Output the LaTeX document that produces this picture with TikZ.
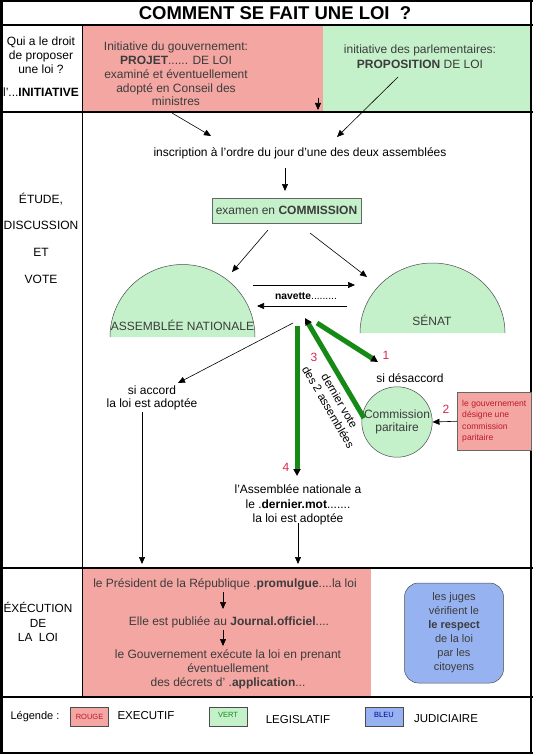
\documentclass[tikz,border=0pt]{standalone}
\usepackage{fontspec}
\setmainfont{Liberation Sans}
\usetikzlibrary{arrows.meta,calc}
\definecolor{rouge}{RGB}{244,166,162}
\definecolor{vert}{RGB}{196,240,202}
\definecolor{bleu}{RGB}{150,178,240}
\definecolor{vertfonce}{RGB}{22,138,22}
\definecolor{numrouge}{RGB}{214,40,80}
\definecolor{gristxt}{RGB}{60,60,60}
\definecolor{rougetxt}{RGB}{190,25,45}
\begin{document}
\begin{tikzpicture}[x=1pt,y=-1pt,
  txt/.style={font=\fontsize{12}{13.75}\selectfont, align=center, inner sep=0pt},
  lab/.style={font=\fontsize{12}{26.7}\selectfont, align=center, inner sep=0pt},
  num/.style={font=\fontsize{12}{13}\selectfont, text=numrouge, inner sep=0pt},
  arr/.style={-{Triangle[length=7pt,width=6pt]}, line width=0.6pt},
  garr/.style={vertfonce, line width=5pt, -{Triangle[length=7pt,width=7pt,color=black]}},
  rule/.style={line width=1.5pt},
  legbox/.style={draw=black!70, line width=0.5pt, minimum width=38, minimum height=19, inner sep=0pt, font=\fontsize{7.5}{8}\selectfont}
]
\useasboundingbox (0,0) rectangle (533,754);
% background fills
\fill[rouge] (82,25) rectangle (323,112);
\fill[vert] (323,25) rectangle (531,112);
\fill[rouge] (82,568) rectangle (371,697);
% table rules
\draw[line width=3pt] (1.5,0) -- (1.5,754);
\draw[rule] (0,1) -- (533,1);
\draw[rule] (531,0) -- (531,754);
\draw[rule] (0,25) -- (533,25);
\draw[rule] (0,112) -- (533,112);
\draw[rule] (0,568) -- (533,568);
\draw[line width=2pt] (0,697) -- (533,697);
\draw[rule] (0,753) -- (533,753);
\draw[line width=1pt] (82,25) -- (82,697);
% title
\node[font=\fontsize{18.5}{20}\selectfont\bfseries, inner sep=0pt] (titre) at (275,13) {COMMENT SE FAIT UNE LOI \ ?};
% row 1
\node[txt] (qui) at (41,55) {Qui a le droit\\de proposer\\une loi ?};
\node[txt] (init) at (41,92) {l'...\textbf{INITIATIVE}};
\node[txt, text=gristxt] (projet) at (176,74) {Initiative du gouvernement:\\\textbf{PROJET}...... DE LOI\\examiné et éventuellement\\adopté en Conseil des\\ministres};
\node[txt, text=gristxt, font=\fontsize{12}{15}\selectfont] (propo) at (420,57) {initiative des parlementaires:\\\textbf{PROPOSITION} DE LOI};
\coordinate (pj1) at (318,98);
\coordinate (pj2) at (318,110);
\draw[arr] (pj1) -- (pj2);
% row 2
\node[lab] (etude) at (41,238) {ÉTUDE,\\DISCUSSION\\ET\\VOTE};
\coordinate (a1s) at (172,113);
\coordinate (a1e) at (211,136);
\coordinate (a2s) at (398,77);
\coordinate (a2e) at (337,137);
\draw[arr] (a1s) -- (a1e);
\draw[arr] (a2s) -- (a2e);
\node[txt] (inscr) at (300,153) {inscription à l'ordre du jour d'une des deux assemblées};
\coordinate (i1) at (285,168);
\coordinate (i2) at (285,191);
\draw[arr] (i1) -- (i2);
\node[txt, draw=black!60, fill=vert, text=gristxt, minimum width=149, minimum height=25, inner sep=0pt] (exam) at (286.5,210.5) {examen en \textbf{COMMISSION}};
% domes
\fill[vert] (110,337) arc (180:360:72.5) -- cycle;
\draw[black!70, line width=0.5pt] (110,337) arc (180:360:72.5);
\fill[vert] (360,333) arc (180:360:72.5 and 70) -- cycle;
\draw[black!70, line width=0.5pt] (360,333) arc (180:360:72.5 and 70);
\node[txt, text=gristxt] (an) at (182.5,325) {ASSEMBLÉE NATIONALE};
\node[txt, text=gristxt] (senat) at (432,320) {SÉNAT};
\coordinate (e1s) at (268,230);
\coordinate (e1e) at (232,272);
\coordinate (e2s) at (310,233);
\coordinate (e2e) at (367,277);
\draw[arr] (e1s) -- (e1e);
\draw[arr] (e2s) -- (e2e);
% navette
\coordinate (n1s) at (253,285);
\coordinate (n1e) at (355,285);
\coordinate (n2s) at (347,306);
\coordinate (n2e) at (257,306);
\draw[arr] (n1s) -- (n1e);
\draw[arr] (n2s) -- (n2e);
\node[txt, font=\fontsize{10.3}{12}\selectfont] (nav) at (306,296) {\textbf{navette}.........};
% green arrows
\coordinate (apex) at (305,318);
\coordinate (g1s) at (317,323);
\coordinate (g1e) at (378,362);
\coordinate (g3s) at (364,418);
\coordinate (g4s) at (297,326);
\coordinate (g4e) at (297,476);
\node[circle, draw=black!70, line width=0.5pt, fill=vert, minimum size=60, inner sep=0pt, txt, text=gristxt] (cp) at (397,422) {Commission\\paritaire};
\draw[garr] (g1s) -- (g1e);
\draw[garr] (g3s) -- (apex);
\draw[garr] (g4s) -- (g4e);
\node[num] (n1) at (386,355) {1};
\node[num] (n2) at (446,409) {2};
\node[num] (n3) at (314,357) {3};
\node[num] (n4) at (286,467) {4};
\node[txt, rotate=-60, font=\fontsize{11.5}{13}\selectfont] (dv) at (334,404) {dernier vote\\des 2 assemblées};
\node[txt] (desac) at (410,378) {si désaccord};
\node[draw=black!60, line width=0.5pt, fill=rouge, minimum width=74, minimum height=58, anchor=north west, inner sep=2pt, align=left, text=rougetxt, font=\fontsize{8.6}{11.3}\selectfont] (gouvbox) at (457,392) {le gouvernement\\désigne une\\commission\\paritaire};
\draw[arr] (gouvbox.west) -- (cp.east);
% si accord
\coordinate (sa1) at (293,323);
\coordinate (sa2) at (178,383);
\draw[arr] (sa1) -- (sa2);
\node[txt] (accord) at (152,398) {si accord\\la loi est adoptée};
\coordinate (ac1) at (142,412);
\coordinate (ac2) at (142,564);
\draw[arr] (ac1) -- (ac2);
\node[txt, font=\fontsize{12}{14.5}\selectfont] (dernier) at (298,505) {l'Assemblée nationale a\\le .\textbf{dernier.mot}.......\\la loi est adoptée};
\coordinate (dm1) at (298,523);
\coordinate (dm2) at (298,564);
\draw[arr] (dm1) -- (dm2);
% row 3
\node[txt, font=\fontsize{11.8}{14.5}\selectfont] (exec) at (38,622) {ÉXÉCUTION\\DE\\LA \ LOI};
\node[txt, text=gristxt] (prez) at (225,584) {le Président de la République .\textbf{promulgue}....la loi};
\coordinate (p1) at (223,592);
\coordinate (p2) at (223,609);
\draw[arr] (p1) -- (p2);
\node[txt, text=gristxt] (jo) at (229,622) {Elle est publiée au \textbf{Journal.officiel}....};
\coordinate (j1) at (223,630);
\coordinate (j2) at (223,646);
\draw[arr] (j1) -- (j2);
\node[txt, text=gristxt, font=\fontsize{12}{14}\selectfont] (gouv) at (228,669) {le Gouvernement exécute la loi en prenant\\éventuellement\\des décrets d' .\textbf{application}...};
\node[draw=black!70, line width=0.5pt, fill=bleu, rounded corners=14pt, minimum width=99, minimum height=100, inner sep=0pt, txt, text=gristxt, font=\fontsize{11}{14}\selectfont] (juges) at (454,633) {les juges\\vérifient le\\\textbf{le respect}\\de la loi\\par les\\citoyens};
% legend
\node[txt, font=\fontsize{11}{13}\selectfont] (leg) at (35,717) {Légende :};
\node[legbox, fill=rouge, text=rougetxt] (lr) at (89.5,717) {ROUGE};
\node[txt, font=\fontsize{11.5}{13}\selectfont] (lrt) at (146,716) {EXECUTIF};
\node[legbox, fill=vert, text=vertfonce] (lv) at (228,716.5) {\raisebox{3pt}{VERT}};
\node[txt, font=\fontsize{11.5}{13}\selectfont] (lvt) at (298,720) {LEGISLATIF};
\node[legbox, fill=bleu, text=blue!60!black] (lb) at (384,716.5) {\raisebox{4pt}{BLEU}};
\node[txt, font=\fontsize{11.5}{13}\selectfont] (lbt) at (446,719) {JUDICIAIRE};
\end{tikzpicture}
\end{document}
